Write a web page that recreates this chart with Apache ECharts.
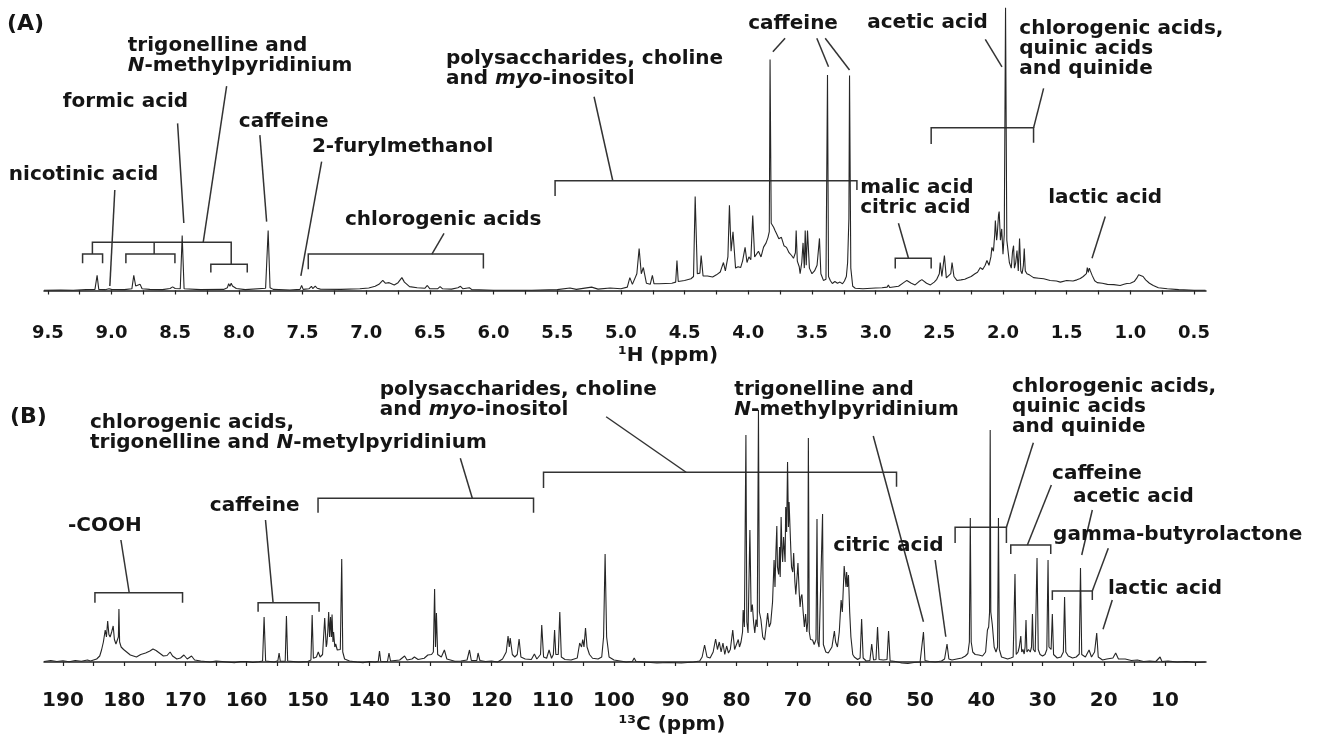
<!DOCTYPE html>
<html>
<head>
<meta charset="utf-8">
<script src="https://cdn.jsdelivr.net/npm/echarts@6/dist/echarts.min.js"></script>
<style>
  html, body { margin: 0; padding: 0; background: #fff; }
  #main { width: 1317px; height: 742px; }
</style>
</head>
<body>
<div id="main"></div>
<script>
// (A) 1H spectrum, [ppm, intensity]
let protonSpectrum = [
    [9.53,0.1],[9.40,0.2],[9.30,0.1],[9.20,0.3],[9.13,0.4],[9.113,5.4],[9.10,0.4],[9.05,0.3],[9.02,0.6],[9.01,1.1],[9.0,0.4],
    [8.90,0.3],[8.84,0.6],[8.825,5.4],[8.81,1.6],[8.795,1.2],[8.775,2.2],[8.76,0.6],[8.70,0.4],[8.60,0.3],[8.54,0.7],[8.52,1.3],
    [8.50,0.7],[8.46,0.6],[8.445,19.6],[8.43,0.6],[8.30,0.3],[8.12,0.4],[8.09,1.0],[8.08,2.4],[8.07,1.5],[8.06,2.6],[8.05,1.6],
    [8.035,2.2],[8.02,0.7],[7.95,0.3],[7.79,0.8],[7.77,21.4],[7.755,1.0],[7.73,0.4],[7.60,0.2],[7.52,0.4],[7.507,1.8],[7.495,0.4],
    [7.45,0.6],[7.43,1.5],[7.42,0.7],[7.40,1.6],[7.385,0.8],[7.375,1.4],[7.36,0.5],[7.20,0.4],[7.05,0.6],[6.98,0.9],[6.93,1.5],
    [6.90,2.2],[6.87,3.6],[6.85,2.6],[6.82,2.8],[6.78,2.0],[6.75,2.8],[6.72,4.6],[6.70,3.0],[6.66,1.4],[6.60,1.0],[6.54,0.8],
    [6.52,1.8],[6.50,0.6],[6.44,0.6],[6.42,1.4],[6.40,0.6],[6.33,0.5],[6.28,1.0],[6.26,1.5],[6.24,0.6],[6.19,1.0],[6.17,0.3],
    [6.00,0.1],[5.70,0.1],[5.50,0.3],[5.40,0.9],[5.35,0.4],[5.23,1.2],[5.18,0.5],[5.085,0.9],[5.00,0.6],[4.95,1.2],[4.93,4.6],
    [4.91,2.2],[4.875,6.0],[4.857,15.0],[4.84,6.0],[4.824,8.2],[4.80,2.6],[4.77,2.2],[4.753,5.4],[4.74,2.4],[4.70,2.4],[4.60,2.6],
    [4.57,3.0],[4.56,10.7],[4.55,3.2],[4.50,3.6],[4.45,4.2],[4.43,5.0],[4.417,33.6],[4.40,6.0],[4.38,6.2],[4.37,12.5],[4.355,5.2],
    [4.32,5.2],[4.28,4.8],[4.25,5.6],[4.22,6.6],[4.21,8.0],[4.195,10.0],[4.18,7.0],[4.16,12.0],[4.148,30.4],[4.135,14.0],[4.12,21.0],
    [4.10,8.0],[4.08,8.5],[4.06,8.2],[4.045,10.5],[4.025,15.4],[4.01,10.0],[3.995,12.0],[3.98,11.0],[3.965,26.8],[3.95,12.0],
    [3.935,11.5],[3.92,14.0],[3.90,12.0],[3.88,15.5],[3.86,17.0],[3.845,19.0],[3.835,21.0],[3.829,82.5],[3.82,24.0],[3.80,22.5],
    [3.79,21.4],[3.775,20.0],[3.76,18.5],[3.74,19.0],[3.72,16.0],[3.70,15.4],[3.68,13.5],[3.66,12.5],[3.645,11.5],[3.63,13.5],
    [3.624,21.4],[3.615,10.5],[3.60,8.5],[3.593,6.0],[3.58,10.0],[3.57,17.0],[3.56,8.0],[3.553,21.4],[3.545,9.0],[3.535,21.4],
    [3.52,8.0],[3.50,6.0],[3.48,7.0],[3.46,9.0],[3.441,18.6],[3.43,6.0],[3.41,3.6],[3.39,4.0],[3.378,77.0],[3.37,5.0],[3.355,3.5],
    [3.34,2.5],[3.32,3.2],[3.30,2.6],[3.28,3.0],[3.26,2.4],[3.245,3.4],[3.23,5.0],[3.22,10.0],[3.21,25.7],[3.205,76.8],[3.195,8.0],
    [3.18,1.5],[3.16,0.8],[3.10,0.6],[3.00,0.9],[2.95,1.0],[2.91,1.2],[2.90,2.0],[2.89,1.1],[2.82,1.5],[2.78,2.8],[2.755,3.6],
    [2.72,2.6],[2.69,2.0],[2.66,3.2],[2.637,3.9],[2.60,2.6],[2.57,2.0],[2.54,3.0],[2.52,4.0],[2.50,6.0],[2.493,10.0],[2.48,5.0],
    [2.46,12.5],[2.445,4.5],[2.43,5.0],[2.41,6.0],[2.40,10.0],[2.385,5.0],[2.362,3.6],[2.33,3.8],[2.30,4.0],[2.283,4.4],[2.25,5.0],
    [2.22,6.0],[2.20,6.5],[2.178,8.2],[2.16,7.5],[2.14,9.0],[2.126,10.7],[2.11,9.0],[2.095,12.0],[2.087,15.4],[2.075,14.0],
    [2.065,20.0],[2.06,25.0],[2.05,18.0],[2.045,20.0],[2.035,27.0],[2.03,28.2],[2.02,18.0],[2.01,22.0],[2.00,13.0],[1.99,20.0],
    [1.98,101.0],[1.97,18.0],[1.96,17.6],[1.95,10.0],[1.935,8.0],[1.925,14.0],[1.917,16.0],[1.91,8.0],[1.90,10.0],[1.89,14.3],
    [1.88,7.0],[1.87,18.6],[1.86,7.0],[1.85,6.0],[1.84,9.0],[1.833,15.0],[1.825,7.0],[1.812,6.0],[1.79,5.5],[1.76,4.6],[1.72,4.4],
    [1.68,4.2],[1.63,3.6],[1.58,3.4],[1.55,3.0],[1.50,3.6],[1.45,3.4],[1.42,3.8],[1.393,4.3],[1.37,5.0],[1.345,6.0],[1.338,8.2],
    [1.33,6.5],[1.322,8.0],[1.314,7.0],[1.30,5.4],[1.28,3.5],[1.26,2.8],[1.22,2.6],[1.18,2.2],[1.13,2.1],[1.08,1.8],[1.05,2.2],
    [1.027,2.5],[1.00,2.6],[0.97,3.2],[0.95,4.4],[0.935,5.6],[0.92,5.6],[0.90,5.0],[0.88,3.8],[0.85,2.6],[0.82,1.8],[0.78,1.0],
    [0.71,0.6],[0.62,0.3],[0.50,0.1],[0.41,0.1]
];

// (B) 13C spectrum, [ppm, intensity]
let carbonSpectrum = [
    [193.1,0.2],[192,0.6],[191,0.2],[190,0.5],[189,0.1],[188,0.6],[187,0.3],[186,0.8],[185.5,0.4],[184.5,1.2],[184,2.4],[183.7,4.8],
    [183.4,8],[183.1,12.8],[182.9,10],[182.7,16.4],[182.5,11],[182.3,10],[182.05,12],[181.8,14.4],[181.6,9],[181.35,7.2],[181.1,8],
    [180.95,10],[180.86,21.2],[180.75,8],[180.5,6],[180.1,5],[179.6,4],[179.0,2.8],[178.5,2.4],[178.0,2],[177.3,3],[176.5,3.6],
    [175.8,4.4],[175.3,5.2],[174.8,4.6],[174.2,3.5],[173.6,2.4],[173.0,2.6],[172.5,4.0],[172.1,2.4],[171.4,1.2],[170.8,1.6],
    [170.25,2.8],[169.7,1.2],[169.0,2.4],[168.5,0.8],[167.5,0.4],[166,0],[165,0.4],[164,0.2],[162,-0.3],[161,0.2],[160,0.2],
    [159,-0.2],[158,0.1],[157.4,0.4],[157.15,18],[156.9,0.4],[155.5,0],[154.9,0.5],[154.7,3.6],[154.5,0.3],[153.7,0.3],[153.5,18.4],
    [153.3,0.4],[151.5,0],[150,0.2],[149.5,0.8],[149.3,18.8],[149.1,1.5],[148.6,2],[148.3,4],[148.0,2],[147.6,3],[147.25,17.6],
    [147.0,6],[146.9,7.2],[146.75,12],[146.6,20],[146.45,10],[146.3,18],[146.15,10],[146.05,19],[145.9,8],[145.8,12],[145.6,6],
    [145.45,7.2],[145.2,4.8],[144.96,4],[144.7,5],[144.47,41.2],[144.3,4],[144.0,1.2],[143.2,0.4],[142,0],[141,-0.3],[140,0.2],
    [139,0],[138.5,0.3],[138.3,4.4],[138.1,0.3],[137,0.2],[136.75,3.6],[136.5,0.4],[135,0.8],[134.2,2.4],[133.8,0.8],[133,1.2],
    [132.6,2],[132,1.0],[131,1.5],[130.4,2.8],[129.8,3],[129.5,4],[129.3,29.2],[129.15,6],[129.0,19.6],[128.8,3],[128.2,2],
    [127.7,4.8],[127.3,1.2],[126,0.3],[125,0.4],[124,0.8],[123.6,4.8],[123.3,0.6],[122.4,0.6],[122.2,3.6],[121.9,0.6],[121,0.2],
    [120,0.4],[119,0],[118.2,1.2],[117.6,4],[117.3,10.4],[117.1,6],[116.95,9.6],[116.6,3],[116.2,2],[115.8,3],[115.5,9.2],
    [115.2,2],[114.5,1.2],[113.5,1.0],[113.0,3.2],[112.6,1.2],[112.0,3],[111.8,14.8],[111.5,2],[111,1.5],[110.6,4.8],[110.2,1.5],
    [109.9,3],[109.7,12.8],[109.5,3],[109.1,3],[108.85,20],[108.6,2],[108,1.0],[107,0.8],[106,1.6],[105.6,7.6],[105.3,6],
    [105.1,9],[104.9,6],[104.65,13.6],[104.4,6],[104.0,3],[103.5,1.5],[102.6,1.2],[102,2],[101.7,10],[101.45,43.2],[101.2,10],
    [100.8,2],[100,0.8],[99,0.4],[98,0],[97,0.2],[96.7,1.6],[96.4,0.2],[95,0],[93,-0.4],[91,-0.2],[89,-0.4],[87,0],[86,0.4],
    [85.6,2],[85.2,6.8],[84.8,2],[84.3,1.6],[83.8,4],[83.4,9.2],[83.1,5],[82.8,8],[82.5,4],[82.2,7.6],[81.9,3],[81.6,6.4],
    [81.3,3.6],[81.0,5],[80.6,12.8],[80.3,5],[80.0,7],[79.7,9],[79.5,6],[79.25,8],[79.0,12],[78.9,20.8],[78.7,14],[78.45,90.8],
    [78.3,16],[78.1,11.6],[77.8,52.8],[77.6,20],[77.4,23],[77.2,16],[77.0,11.6],[76.8,17],[76.6,14],[76.4,100.8],[76.25,20],
    [76.0,17],[75.7,10],[75.4,8.8],[75.15,14],[74.9,19.6],[74.65,14],[74.4,15.6],[74.1,24],[73.85,40.8],[73.7,30],[73.55,44],
    [73.4,54.4],[73.3,38],[73.1,35],[72.95,46],[72.85,34],[72.7,58],[72.55,44],[72.45,40],[72.3,50],[72.2,46],[72.05,40],
    [71.95,62],[71.8,52],[71.65,80],[71.5,54],[71.4,64],[71.25,64.8],[71.1,44],[71.0,38],[70.8,36],[70.65,43.6],[70.45,32],
    [70.3,27],[70.1,34],[69.95,39.6],[69.75,28],[69.6,22],[69.45,26],[69.3,27],[69.1,20],[68.9,14],[68.7,19.2],[68.5,12],
    [68.35,16],[68.25,89.6],[68.1,12],[67.9,9],[67.56,8.8],[67.3,7],[67.0,9],[66.84,57.2],[66.7,8],[66.5,6],[66.2,6],[65.93,59.2],
    [65.8,7],[65.4,4],[65.0,3.6],[64.8,3.2],[64.4,6],[64.0,12.4],[63.8,8],[63.5,6],[63.2,12],[62.9,24.8],[62.7,20],[62.5,32],
    [62.4,38.4],[62.25,38.4],[62.1,30],[62.0,36],[61.85,30],[61.7,34.8],[61.5,20],[61.3,10],[61.0,3],[60.75,2],[60.2,1],[59.8,1.6],
    [59.55,17.2],[59.3,1.6],[58.8,0.4],[58.2,0.6],[57.9,7.2],[57.6,0.8],[57.2,1],[56.95,14],[56.7,1],[56,0.8],[55.4,1],[55.15,12.4],
    [54.9,0.5],[54,0.2],[53,-0.4],[52,-0.6],[51,-0.2],[50,0],[49.7,0.8],[49.45,12],[49.2,0.6],[48.5,0.2],[47.5,0],[46.5,0.4],
    [46.0,1.2],[45.6,7.2],[45.3,1.2],[44.8,0.8],[44,1.2],[43.2,1.6],[42.6,2.4],[42.2,3.4],[41.95,8],[41.8,57.6],[41.65,8],[41.4,4],
    [41.0,3],[40.4,2.8],[39.8,2.4],[39.3,4],[39.0,12.8],[38.8,14],[38.65,20],[38.55,92.8],[38.45,20],[38.2,14.8],[37.9,6],[37.6,4],
    [37.35,6],[37.2,57.6],[37.05,5],[36.7,2],[36.2,1.6],[35.7,1.2],[35.2,1.6],[34.8,2],[34.5,35.2],[34.3,3],[34.0,4],[33.8,6],
    [33.55,10.4],[33.4,4],[33.2,5],[33.0,3.2],[32.85,6],[32.7,16.8],[32.55,4],[32.3,5],[32.0,4],[31.8,6],[31.65,19.2],[31.5,5],
    [31.2,4],[30.9,41.6],[30.7,5],[30.4,3],[30.0,2.4],[29.6,3],[29.3,5],[29.1,40.8],[28.95,6],[28.6,5],[28.4,19.2],[28.2,3],
    [27.6,1.6],[27.0,2],[26.6,4],[26.4,26],[26.2,4],[25.8,2.4],[25.1,1.6],[24.5,2],[24.0,3.2],[23.8,37.6],[23.6,3],[23.0,2],
    [22.4,4.8],[22.0,2],[21.5,4],[21.15,11.6],[20.9,2],[20.2,0.8],[19.5,1.2],[18.5,1.6],[18.05,3.6],[17.6,1.2],[16.5,1.2],
    [15.5,0.6],[14.5,0.8],[13.5,0.2],[12.5,0.4],[11.5,0.2],[10.8,2],[10.5,0.2],[9.5,0.4],[8,0],[6.5,0.2],[5,-0.2],[3.4,0]
];

// tick labels / tick marks
let protonLabels = [9.5, 9.0, 8.5, 8.0, 7.5, 7.0, 6.5, 6.0, 5.5, 5.0, 4.5, 4.0, 3.5, 3.0, 2.5, 2.0, 1.5, 1.0, 0.5];
let protonTickMarks = [9.5, 9.25, 9.0, 8.75, 8.5, 8.25, 8.0, 7.75, 7.5, 7.25, 7.0, 6.75, 6.5, 6.25, 6.0, 5.75, 5.5, 5.25, 5.0,
    4.75, 4.5, 4.25, 4.0, 3.75, 3.5, 3.25, 3.0, 2.75, 2.5, 2.25, 2.0, 1.75, 1.5, 1.25, 1.0, 0.75, 0.5];
let carbonLabels = [190, 180, 170, 160, 150, 140, 130, 120, 110, 100, 90, 80, 70, 60, 50, 40, 30, 20, 10];
let carbonTickMarks = [190, 185, 180, 175, 170, 165, 160, 155, 150, 145, 140, 135, 130, 125, 120, 115, 110, 105, 100,
    95, 90, 85, 80, 75, 70, 65, 60, 55, 50, 45, 40, 35, 30, 25, 20, 15, 10, 5];

// annotations: labels [ppm, intensity, text]
let protonLabelsText = [
    [8.872, 87.5, 'trigonelline and\n{i|N}-methylpyridinium'],
    [9.382, 67.5, 'formic acid'],
    [8.0, 60.4, 'caffeine'],
    [7.426, 51.25, '2-furylmethanol'],
    [9.806, 41.4, 'nicotinic acid'],
    [7.167, 25.2, 'chlorogenic acids'],
    [6.374, 82.9, 'polysaccharides, choline\nand {i|myo}-inositol'],
    [4.001, 95.4, 'caffeine'],
    [3.066, 95.7, 'acetic acid'],
    [1.872, 93.6, 'chlorogenic acids,\nquinic acids\nand quinide'],
    [3.121, 36.6, 'malic acid\ncitric acid'],
    [1.645, 33.2, 'lactic acid']
];
let carbonLabelsText = [
    [185.59, 95.8, 'chlorogenic acids,\ntrigonelline and {i|N}-metylpyridinium'],
    [138.27, 109.0, 'polysaccharides, choline\nand {i|myo}-inositol'],
    [189.18, 54.6, '-COOH'],
    [166.01, 62.6, 'caffeine'],
    [80.34, 109.0, 'trigonelline and\n{i|N}-methylpyridinium'],
    [64.18, 46.6, 'citric acid'],
    [34.97, 110.2, 'chlorogenic acids,\nquinic acids\nand quinide'],
    [28.45, 75.4, 'caffeine'],
    [25.02, 66.2, 'acetic acid'],
    [28.28, 50.8, 'gamma-butyrolactone'],
    [19.31, 29.4, 'lactic acid']
];

// brackets [ppmA, ppmB, level, legEndA, legEndB]
let protonBrackets = [
    [9.15, 8.06, 17.2, 13.0, 9.4],
    [9.227, 9.07, 13.0, 9.7, 9.7],
    [8.887, 8.502, 13.0, 9.7, 9.7],
    [8.22, 7.934, 9.4, 6.4, 6.4],
    [7.455, 6.08, 13.0, 7.6, 7.9],
    [5.517, 3.147, 39.2, 33.75, 35.9],
    [2.564, 1.76, 58.1, 52.3, 52.8],
    [2.846, 2.564, 11.5, 7.9, 7.9]
];
let carbonBrackets = [
    [184.78, 170.47, 27.7, 23.7, 23.7],
    [158.13, 148.17, 23.7, 20.1, 20.1],
    [148.34, 113.14, 65.5, 59.7, 59.7],
    [111.51, 53.85, 75.9, 69.6, 70.1],
    [44.28, 35.9, 53.9, 47.6, 47.6],
    [35.19, 28.66, 46.8, 43.2, 43.2],
    [28.4, 21.87, 28.4, 24.8, 24.8]
];

// leader lines
let protonLeaders = [
    [[8.665, 17.2], [8.665, 13.0]],
    [[8.28, 17.2], [8.096, 73.0]],
    [[8.974, 35.9], [9.013, 1.6]],
    [[8.481, 59.7], [8.432, 24.1]],
    [[7.835, 55.5], [7.782, 24.6]],
    [[7.35, 46.0], [7.513, 5.2]],
    [[6.484, 13.0], [6.389, 20.4]],
    [[5.064, 39.2], [5.211, 69.2]],
    [[3.711, 90.1], [3.807, 85.3]],
    [[3.462, 90.1], [3.37, 79.9]],
    [[3.396, 90.1], [3.205, 78.75]],
    [[2.139, 89.7], [2.008, 79.9]],
    [[1.76, 58.1], [1.681, 72.2]],
    [[2.742, 11.5], [2.821, 24.0]],
    [[1.197, 26.4], [1.301, 11.5]]
];
let carbonLeaders = [
    [[179.18, 27.7], [180.54, 48.8]],
    [[155.68, 23.7], [156.92, 56.8]],
    [[123.14, 65.5], [125.1, 81.5]],
    [[88.22, 75.9], [101.28, 98.1]],
    [[57.65, 90.4], [49.45, 16.1]],
    [[47.54, 40.8], [45.8, 10.1]],
    [[35.9, 53.9], [31.5, 87.7]],
    [[32.48, 46.8], [28.56, 70.8]],
    [[21.87, 60.8], [23.6, 42.8]],
    [[21.87, 28.4], [19.26, 45.5]],
    [[18.61, 24.8], [20.12, 13.1]]
];

const FONT = 'DejaVu Sans';
const INK = '#151515';

function bracketLines(brackets, leaders) {
    let out = [];
    brackets.forEach(function (b) {
        out.push({coords: [[b[0], b[3]], [b[0], b[2]], [b[1], b[2]], [b[1], b[4]]]});
    });
    leaders.forEach(function (l) {
        out.push({coords: l});
    });
    return out;
}

function labelRenderer(list) {
    return function (params, api) {
        let p = api.coord([api.value(0), api.value(1)]);
        return {
            type: 'text',
            x: p[0],
            y: p[1] - 10,
            silent: true,
            style: {
                text: list[params.dataIndex][2],
                fill: INK,
                fontSize: 20,
                fontWeight: 'bold',
                fontFamily: FONT,
                lineHeight: 20,
                align: 'left',
                verticalAlign: 'top',
                rich: {
                    i: {fontSize: 20, fontWeight: 'bold', fontStyle: 'italic', fontFamily: FONT, lineHeight: 20, fill: INK}
                }
            }
        };
    };
}

function xAxisFor(gridIndex, min, max, labels, ticks, fontSize, digits) {
    return {
        type: 'value',
        gridIndex: gridIndex,
        inverse: true,
        min: min,
        max: max,
        axisLine: {show: true, lineStyle: {color: '#222', width: 1.5}},
        axisTick: {show: true, customValues: ticks, length: 4, lineStyle: {color: '#222', width: 1.2}},
        axisLabel: {
            customValues: labels,
            margin: 6,
            color: INK,
            fontSize: fontSize,
            fontWeight: 'bold',
            fontFamily: FONT,
            formatter: function (v) { return v.toFixed(digits); }
        },
        splitLine: {show: false}
    };
}

let myChart = echarts.init(document.getElementById('main'));
let option = {
    animation: false,
    backgroundColor: '#fff',
    grid: [
        {left: 44, right: 111, top: 7, height: 311},
        {left: 44, right: 111, top: 335, height: 350}
    ],
    xAxis: [
        xAxisFor(0, 0.406, 9.53, protonLabels, protonTickMarks, 18, 1),
        xAxisFor(1, 3.3, 193.1, carbonLabels, carbonTickMarks, 20, 0)
    ],
    yAxis: [
        {type: 'value', gridIndex: 0, min: -9.82, max: 101.25, show: false},
        {type: 'value', gridIndex: 1, min: -9.2, max: 130.8, show: false}
    ],
    graphic: [
        {type: 'text', x: 7, y: 24, style: {text: '(A)', fill: INK, font: 'bold 22px "DejaVu Sans"', verticalAlign: 'middle'}},
        {type: 'text', x: 10, y: 417, style: {text: '(B)', fill: INK, font: 'bold 22px "DejaVu Sans"', verticalAlign: 'middle'}},
        {type: 'text', x: 668, y: 356, style: {text: '\u00b9H (ppm)', fill: INK, font: 'bold 20px "DejaVu Sans"', align: 'center', verticalAlign: 'middle'}},
        {type: 'text', x: 672, y: 725, style: {text: '\u00b9\u00b3C (ppm)', fill: INK, font: 'bold 20px "DejaVu Sans"', align: 'center', verticalAlign: 'middle'}}
    ],
    series: [
        {
            name: '1H',
            type: 'line',
            xAxisIndex: 0,
            yAxisIndex: 0,
            data: protonSpectrum,
            showSymbol: false,
            sampling: null,
            lineStyle: {color: '#262626', width: 1.1},
            silent: true
        },
        {
            name: '13C',
            type: 'line',
            xAxisIndex: 1,
            yAxisIndex: 1,
            data: carbonSpectrum,
            showSymbol: false,
            lineStyle: {color: '#262626', width: 1.1},
            silent: true
        },
        {
            type: 'lines',
            coordinateSystem: 'cartesian2d',
            xAxisIndex: 0,
            yAxisIndex: 0,
            polyline: true,
            clip: false,
            silent: true,
            lineStyle: {color: '#333', width: 1.5, opacity: 1},
            data: bracketLines(protonBrackets, protonLeaders)
        },
        {
            type: 'lines',
            coordinateSystem: 'cartesian2d',
            xAxisIndex: 1,
            yAxisIndex: 1,
            polyline: true,
            clip: false,
            silent: true,
            lineStyle: {color: '#333', width: 1.5, opacity: 1},
            data: bracketLines(carbonBrackets, carbonLeaders)
        },
        {
            type: 'custom',
            xAxisIndex: 0,
            yAxisIndex: 0,
            clip: false,
            silent: true,
            renderItem: labelRenderer(protonLabelsText),
            data: protonLabelsText.map(function (l) { return [l[0], l[1]]; })
        },
        {
            type: 'custom',
            xAxisIndex: 1,
            yAxisIndex: 1,
            clip: false,
            silent: true,
            renderItem: labelRenderer(carbonLabelsText),
            data: carbonLabelsText.map(function (l) { return [l[0], l[1]]; })
        }
    ]
};
myChart.setOption(option);
</script>
</body>
</html>
